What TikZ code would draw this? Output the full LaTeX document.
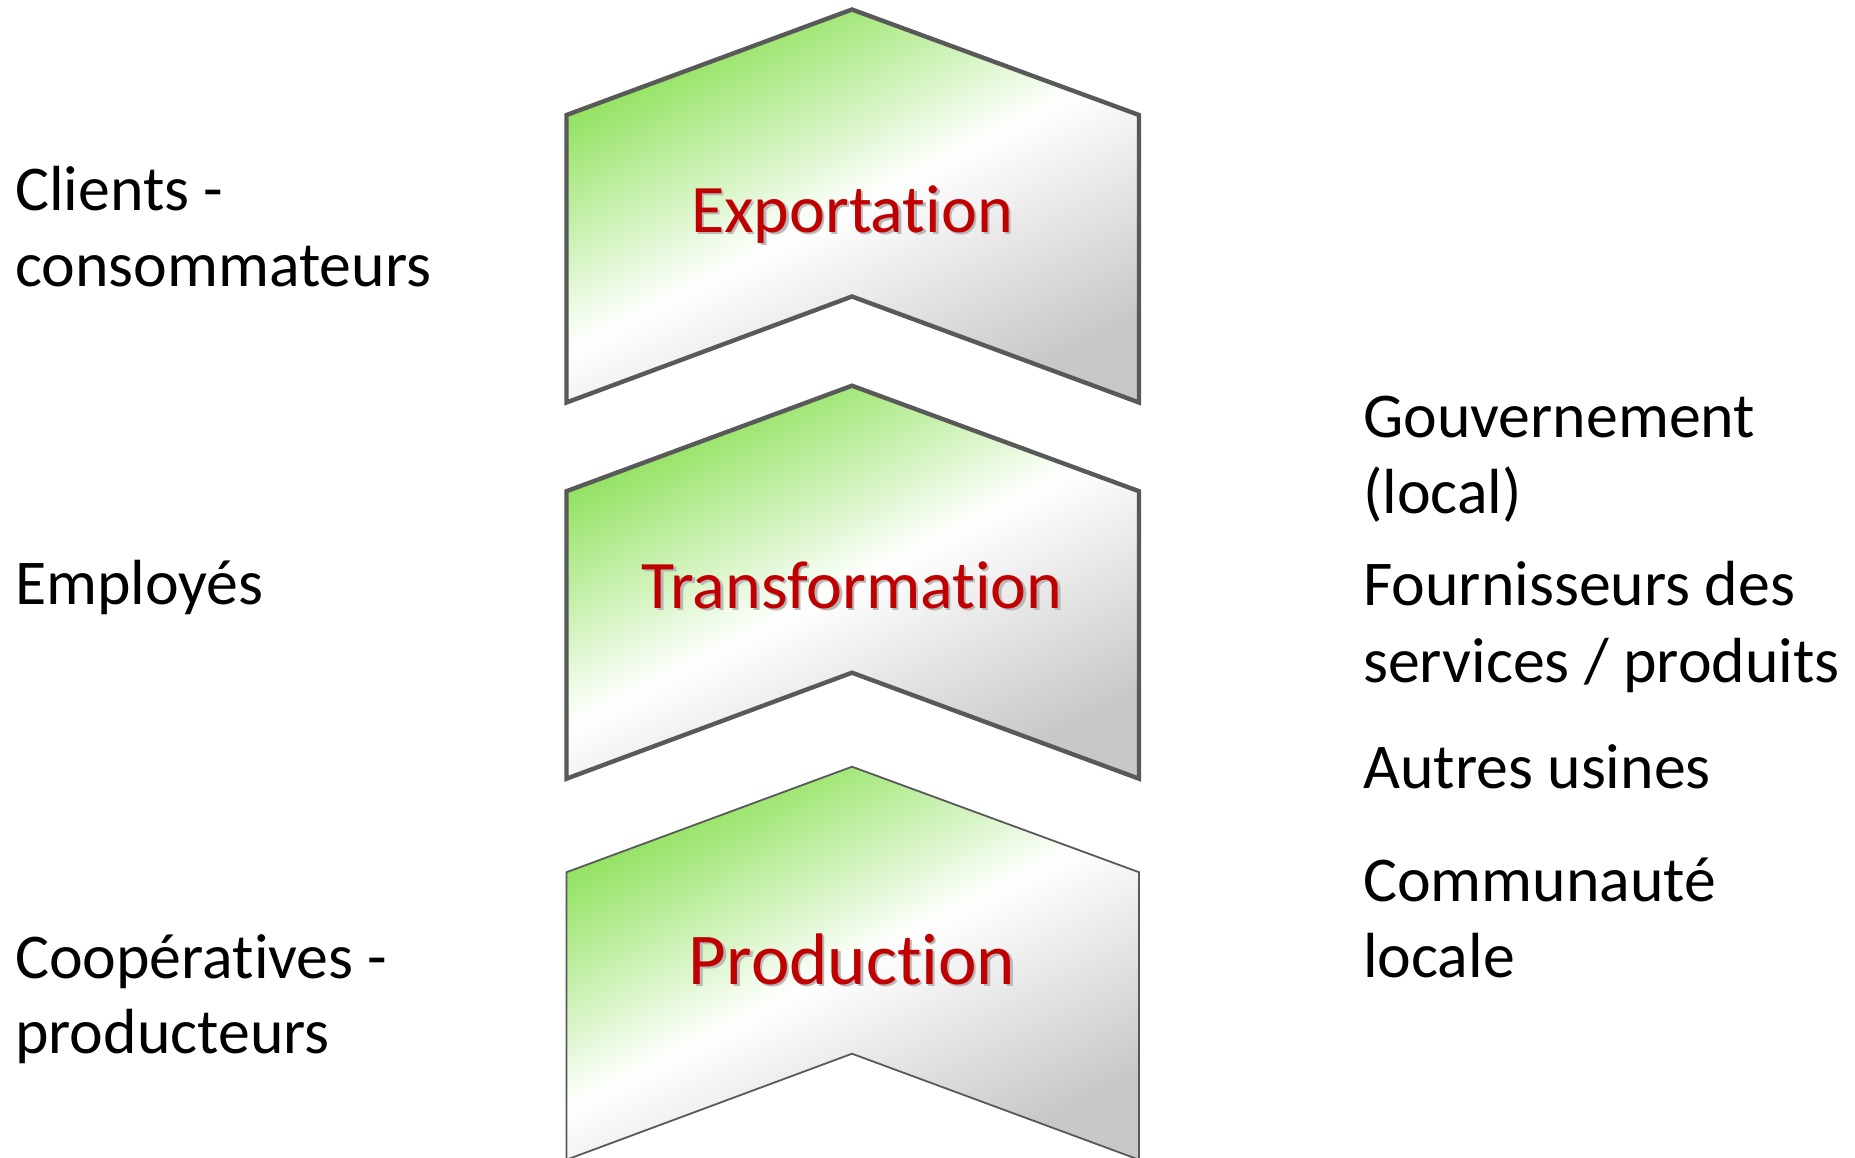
\documentclass[tikz,border=0pt]{standalone}
\usepackage{fontspec}
\setmainfont{Carlito}[Ligatures=NoCommon]
\definecolor{cgreen}{RGB}{138,224,84}
\definecolor{cgray}{RGB}{200,200,200}
\definecolor{cred}{RGB}{192,0,0}
\definecolor{cedge}{RGB}{89,89,89}
\begin{document}
\begin{tikzpicture}[x=1pt,y=-1pt,
  chevfill/.style={top color=cgreen, bottom color=cgray, middle color=white, shading angle=27},
  chevthick/.style={chevfill, draw=cedge, line width=4.4pt, line join=miter},
  chevthin/.style={chevfill, draw=cedge, line width=1.8pt, line join=miter},
  side/.style={anchor=base west, inner sep=0pt, font=\fontsize{63.8}{76}\selectfont, text=black},
  lab/.style={anchor=base, inner sep=0pt, text=cred},
  labshadow/.style={anchor=base, inner sep=0pt, text=black!28},
]
\useasboundingbox (0,0) rectangle (1855,1157);
\clip (0,0) rectangle (1855,1157);
% chevrons
\path[chevthick] (852,9.5) -- (1139,115) -- (1139,402.5) -- (852,296.5) -- (566.5,402.5) -- (566.5,115) -- cycle;
\path[chevthick] (852,385.7) -- (1139,491.2) -- (1139,778.7) -- (852,672.7) -- (566.5,778.7) -- (566.5,491.2) -- cycle;
\path[chevthin] (852,766.7) -- (1139,872.2) -- (1139,1159.7) -- (852,1053.7) -- (566.5,1159.7) -- (566.5,872.2) -- cycle;
% labels
\node[labshadow, font=\fontsize{68}{80}\selectfont] (expS) at (854.5,234.5) {Exportation};
\node[lab, font=\fontsize{68}{80}\selectfont] (exp) at (852,232) {Exportation};
\node[labshadow, font=\fontsize{68}{80}\selectfont] (traS) at (854.5,610.5) {Transformation};
\node[lab, font=\fontsize{68}{80}\selectfont] (tra) at (852,608) {Transformation};
\node[labshadow, font=\fontsize{73}{86}\selectfont] (proS) at (854.5,986.5) {Production};
\node[lab, font=\fontsize{73}{86}\selectfont] (pro) at (852,984) {Production};
% left texts
\node[side] (cl1) at (15,210.6) {Clients -};
\node[side] (cl2) at (15,286.3) {consommateurs};
\node[side] (emp) at (15,604.6) {Employés};
\node[side] (co1) at (15,978.4) {Coopératives -};
\node[side] (co2) at (15,1053.5) {producteurs};
% right texts
\node[side] (go1) at (1363,437.7) {Gouvernement};
\node[side] (go2) at (1363,513.5) {(local)};
\node[side] (fo1) at (1363,605.7) {Fournisseurs des};
\node[side] (fo2) at (1363,682.6) {services / produits};
\node[side] (au) at (1363,788) {Autres usines};
\node[side] (cm1) at (1363,901.5) {Communauté};
\node[side] (cm2) at (1363,977) {locale};
\end{tikzpicture}
\end{document}
